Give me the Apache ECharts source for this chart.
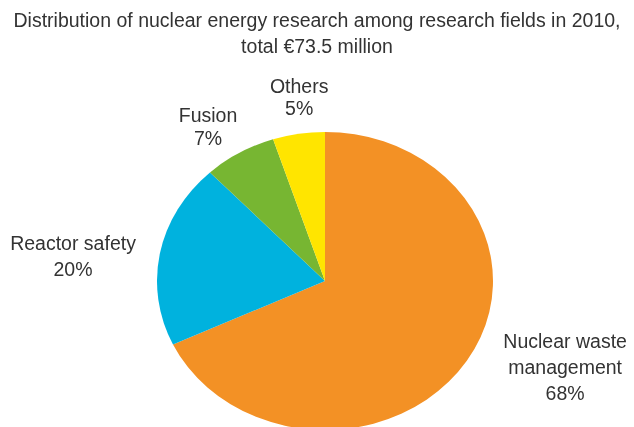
<!DOCTYPE html>
<html><head><meta charset="utf-8">
<script src="https://cdn.jsdelivr.net/npm/echarts@6/dist/echarts.min.js"></script>
<style>
html,body{margin:0;padding:0;background:#fff;overflow:hidden}
#wrap{position:relative;width:634px;height:427px;overflow:hidden}
#pie{position:absolute;left:0;top:0;height:427px;transform-origin:0 0}
#txt{position:absolute;left:0;top:0;width:634px;height:427px}
</style>
</head><body><div id="wrap"><div id="pie"></div><div id="txt"></div></div>
<script>
var titleText = 'Distribution of nuclear energy research among research fields in 2010,\ntotal €73.5 million';
var categories = ['Nuclear waste\nmanagement', 'Reactor safety', 'Fusion', 'Others'];
var shares = [68, 20, 7, 5];
var colors = ['#F39125', '#00B2DE', '#77B632', '#FFE500'];

// layout (ellipse: horizontal radius 168, vertical radius 149)
var CX = 325, CY = 281, RX = 168, RY = 149;
var SX = RX / RY;
// label placement tuning
var labelLen = [15.3, 0, 28.8, 35.3];
var labelLen2 = [101.4, 105.6, 26.5, -3];
var labelDy = [0, 5, 0, 0];
var labelLH = [26, 26, 23, 22];
var FONT = 'Liberation Sans, Arial, Helvetica, sans-serif';
var TEXT_COLOR = '#333';

var pieDiv = document.getElementById('pie');
pieDiv.style.width = (634 / SX) + 'px';
pieDiv.style.transform = 'scaleX(' + SX + ')';

var chartA = echarts.init(pieDiv, null, {renderer: 'svg'});
chartA.setOption({
  animation: false,
  series: [{
    type: 'pie', silent: true,
    center: [CX / SX, CY], radius: RY,
    startAngle: 90, clockwise: true,
    label: {show: false}, labelLine: {show: false},
    itemStyle: {borderWidth: 0},
    data: categories.map(function (n, i) {
      return {name: n, value: shares[i], itemStyle: {color: colors[i]}};
    })
  }]
});

var chartB = echarts.init(document.getElementById('txt'), null, {renderer: 'canvas'});
chartB.setOption({
  animation: false,
  title: {
    text: titleText, left: 'center', top: 4,
    textStyle: {fontFamily: FONT, fontSize: 19.5, fontWeight: 'normal', color: TEXT_COLOR, lineHeight: 26}
  },
  series: [{
    type: 'pie', silent: true,
    center: [CX, CY], radius: RY,
    startAngle: 90, clockwise: true,
    avoidLabelOverlap: false,
    itemStyle: {color: 'rgba(0,0,0,0)', borderWidth: 0},
    label: {
      show: true, position: 'outside', distanceToLabelLine: 0,
      formatter: function (p) { return p.name + '\n' + p.value + '%'; },
      fontFamily: FONT, fontSize: 19.5, color: TEXT_COLOR
    },
    labelLayout: function (p) {
      var r = p.labelRect;
      var ax = p.align === 'right' ? r.x + r.width : (p.align === 'left' ? r.x : r.x + r.width / 2);
      return {x: ax, align: 'center', dy: labelDy[p.dataIndex]};
    },
    data: categories.map(function (n, i) {
      return {
        name: n, value: shares[i],
        labelLine: {show: false, length: labelLen[i], length2: labelLen2[i]},
        label: {lineHeight: labelLH[i]}
      };
    })
  }]
});
</script></body></html>
